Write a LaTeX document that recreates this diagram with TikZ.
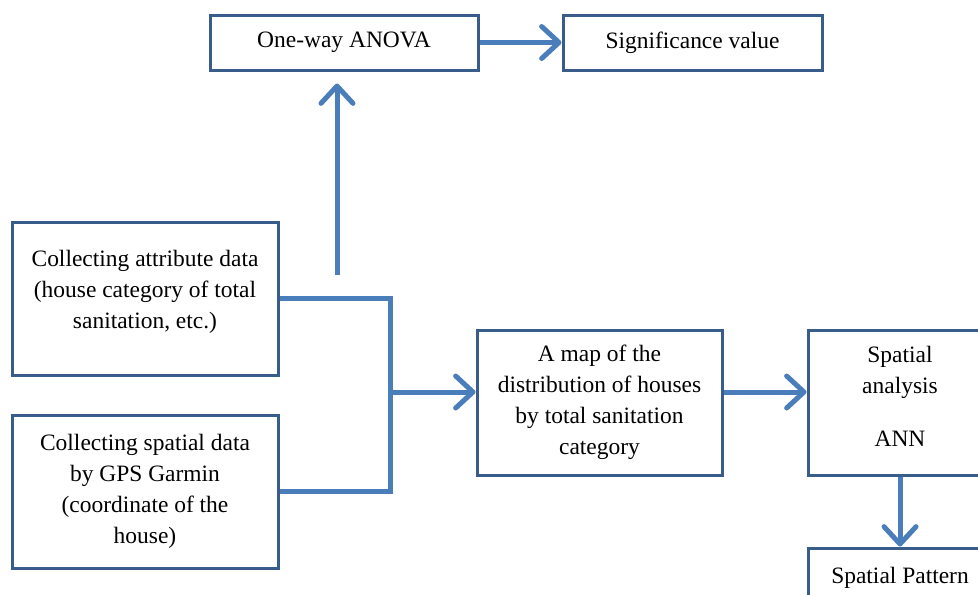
\documentclass[tikz,border=0pt]{standalone}
\usepackage{fontspec}
\setmainfont{Liberation Serif}
\usetikzlibrary{arrows.meta}
\definecolor{boxline}{HTML}{385D8A}
\definecolor{arrowblue}{HTML}{4A7EBB}
\begin{document}
\begin{tikzpicture}[x=0.75pt,y=-0.75pt,
    box/.style={draw=boxline,line width=2.25pt,align=center,inner sep=0pt,
        font=\fontsize{17.6}{23.3}\selectfont},
    link/.style={draw=arrowblue,line width=3.75pt},
    >={Straight Barb[length=13pt,width=24pt,round]}]
    \useasboundingbox (0,0) rectangle (978,594);
    \clip (0,0) rectangle (978,594);
    % boxes
    \node[box,minimum width=201pt,minimum height=41.25pt] (anova) at (344,42.5) {One-way ANOVA};
    \node[box,minimum width=194.25pt,minimum height=41.25pt] (sig) at (692.5,42.5) {Significance value};
    \node[box,minimum width=199.5pt,minimum height=114.75pt] (attr) at (145,298.5)
        {Collecting attribute data\\(house category of total\\sanitation, etc.)\\[-9pt]\mbox{}};
    \node[box,minimum width=199.5pt,minimum height=114.75pt] (spat) at (145,491.5)
        {Collecting spatial data\\by GPS Garmin\\(coordinate of the\\house)};
    \node[box,minimum width=183.75pt,minimum height=108.75pt] (map) at (599.5,402.5)
        {A map of the\\distribution of houses\\by total sanitation\\category};
    \node[box,minimum width=138pt,minimum height=108.75pt] (ana) at (900,402.5)
        {Spatial\\analysis\\[15.75pt]ANN\\[-14pt]\mbox{}};
    \node[box,minimum width=138pt,minimum height=45pt] (pattern) at (900,578) {Spatial Pattern};
    % connectors
    \coordinate (j) at (390,392);
    \coordinate (up) at (337,275);
    \draw[link] (attr.east) -| (j) |- (spat.east);
    \draw[link,->] (j) -- (j -| map.west);
    \draw[link,->,shorten >=9pt] (up) -- (up |- anova.south);
    \draw[link,->] (anova) -- (sig);
    \draw[link,->] (map.east |- j) -- (ana.west |- j);
    \draw[link,->] (ana) -- (pattern);
\end{tikzpicture}
\end{document}
